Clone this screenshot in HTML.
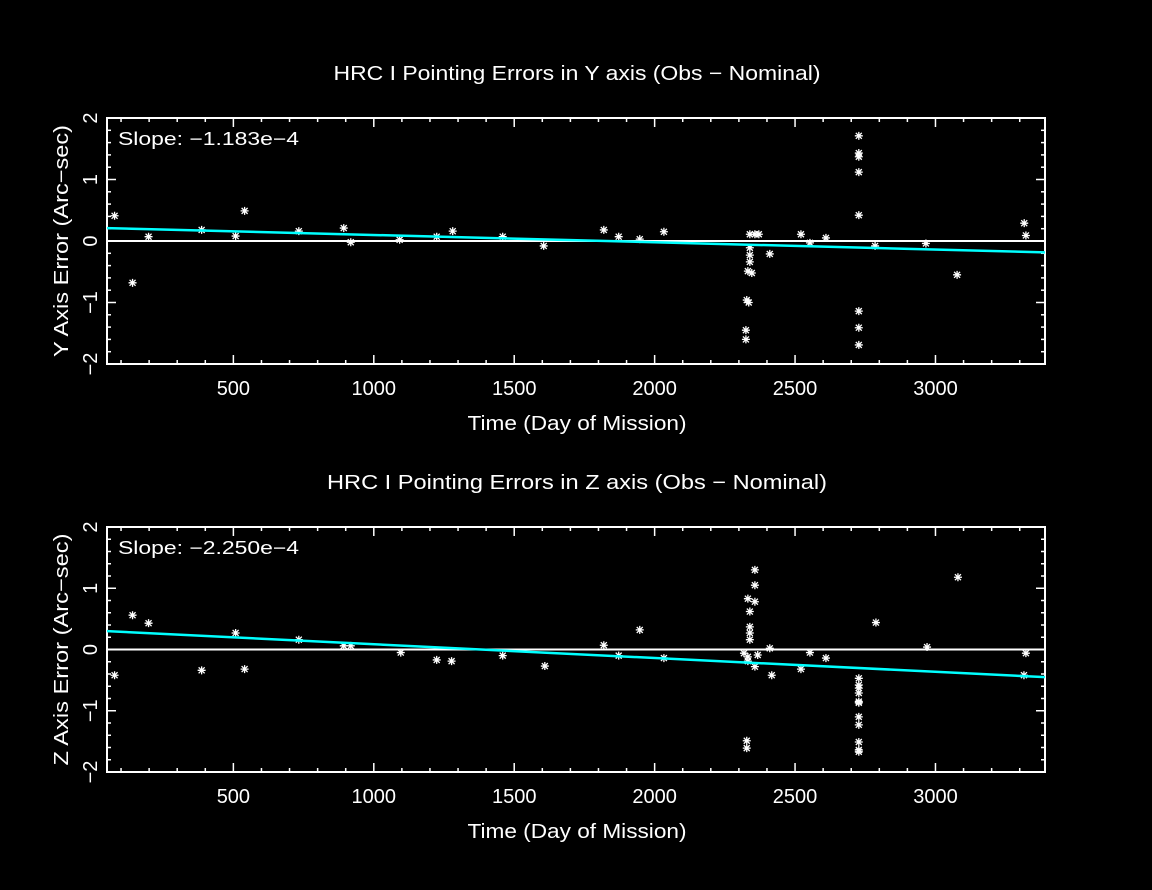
<!DOCTYPE html>
<html><head><meta charset="utf-8"><style>
html,body{margin:0;padding:0;background:#000;}
svg{display:block;font-family:"Liberation Sans","DejaVu Sans",sans-serif;}
</style></head><body>
<svg id="chart" width="1152" height="890" viewBox="0 0 1152 890" xmlns="http://www.w3.org/2000/svg">
<rect x="0" y="0" width="1152" height="890" fill="#000"/>
</svg>
<script>
const xTicks = [500, 1000, 1500, 2000, 2500, 3000];
const yTicks = [-2, -1, 0, 1, 2];
const yDays = [77,141,198,387,508,540,733,893,918,1092,1224,1281,1459,1605,1819,1872,1947,2033,2339,2357,2371,2339,2339,2339,2332,2346,2328,2335,2325,2325,2410,2521,2553,2610,2785,2727,2727,2727,2727,2727,2727,2727,2727,2966,3077,3316,3322];
const yVals = [0.41,-0.68,0.07,0.18,0.08,0.49,0.16,0.21,-0.02,0.02,0.07,0.16,0.07,-0.08,0.18,0.07,0.03,0.15,0.11,0.11,0.11,-0.11,-0.23,-0.34,-0.49,-0.52,-0.96,-1.0,-1.45,-1.6,-0.21,0.11,-0.03,0.05,-0.08,1.71,1.43,1.37,1.12,0.42,-1.14,-1.41,-1.69,-0.04,-0.55,0.29,0.09];
const zDays = [77,141,198,387,508,540,733,893,918,1096,1224,1277,1459,1609,1819,1872,1947,2033,2357,2357,2332,2357,2339,2339,2339,2339,2318,2332,2367,2332,2357,2328,2328,2417,2410,2553,2521,2610,2788,2727,2727,2727,2727,2727,2727,2727,2727,2727,2727,2727,2970,3080,3322,3315];
const zVals = [-0.42,0.56,0.43,-0.34,0.27,-0.32,0.16,0.06,0.06,-0.05,-0.17,-0.19,-0.1,-0.27,0.07,-0.1,0.32,-0.14,1.30,1.05,0.83,0.78,0.62,0.37,0.27,0.16,-0.06,-0.12,-0.09,-0.19,-0.28,-1.49,-1.61,-0.42,0.02,-0.05,-0.32,-0.14,0.44,-0.47,-0.58,-0.63,-0.71,-0.85,-0.87,-1.1,-1.23,-1.51,-1.64,-1.67,0.04,1.18,-0.06,-0.42];
const ySlope = -1.183e-4, yIntercept = 0.216;
const zSlope = -2.250e-4, zIntercept = 0.311;

const NS = "http://www.w3.org/2000/svg";
const svg = document.getElementById('chart');
const X0 = 107, X1 = 1045, DMIN = 50, DMAX = 3390;
function xs(d){ return X0 + (d - DMIN) * (X1 - X0) / (DMAX - DMIN); }
function mk(tag, attrs, parent){
  const e = document.createElementNS(NS, tag);
  for (const k in attrs) e.setAttribute(k, attrs[k]);
  (parent || svg).appendChild(e);
  return e;
}
function txt(s, x, y, size, anchor, parent, tl){
  const t = mk('text', {x:x, y:y, fill:'#fff', 'font-size':size, 'text-anchor':anchor||'middle'}, parent);
  if (tl) { t.setAttribute('textLength', tl); t.setAttribute('lengthAdjust', 'spacingAndGlyphs'); }
  t.textContent = s;
  return t;
}
function panel(name, top, bottom, title, titleLen, ylabel, slopeTxt, days, vals, slope, intercept){
  const g = mk('g', {});
  
  
  function ys(v){ return top + (2 - v) * (bottom - top) / 4; }
  const t = txt(title, 577, top - 38, 20, 'middle', g, titleLen);
  
  
  const fr = mk('rect', {x:X0, y:top, width:X1-X0, height:bottom-top, fill:'none', stroke:'#fff', 'stroke-width':2}, g);
  
  
  for (let d = 100; d <= 3300; d += 100){
    const x = xs(d);
    const len = (d % 500 === 0) ? 9 : 4;
    mk('line', {x1:x, y1:bottom, x2:x, y2:bottom-len, stroke:'#fff', 'stroke-width':1.5}, g);
    mk('line', {x1:x, y1:top, x2:x, y2:top+len, stroke:'#fff', 'stroke-width':1.5}, g);
  }
  xTicks.forEach(v => {
    const l = txt(String(v), xs(v), bottom + 31, 20, 'middle', g);
    
    
  });
  for (let i = -10; i <= 10; i++){
    const v = i / 5, y = ys(v);
    const len = (i % 5 === 0) ? 9 : 4;
    mk('line', {x1:X0, y1:y, x2:X0+len, y2:y, stroke:'#fff', 'stroke-width':1.5}, g);
    mk('line', {x1:X1, y1:y, x2:X1-len, y2:y, stroke:'#fff', 'stroke-width':1.5}, g);
  }
  yTicks.forEach(v => {
    const l = txt(String(v).replace('-', '\u2212'), 0, 0, 20, 'middle', g);
    l.setAttribute('transform', 'translate(97,' + ys(v) + ') rotate(-90)');
    
    
  });
  const xl = txt('Time (Day of Mission)', 577, bottom + 66, 20, 'middle', g, 219);
  
  
  const yl = txt(ylabel, 0, 0, 20, 'middle', g, 232);
  yl.setAttribute('transform', 'translate(68,' + ((top+bottom)/2) + ') rotate(-90)');
  
  
  const sl = txt(slopeTxt, 118, top + 27, 18, 'start', g, 181);
  
  
  const z = mk('line', {x1:X0, y1:ys(0), x2:X1, y2:ys(0), stroke:'#fff', 'stroke-width':2}, g);
  
  
  days.forEach((d, i) => {
    const cx = xs(d), cy = ys(vals[i]), r = 4;
    const p = mk('path', {d:'M'+(cx-r)+' '+cy+'H'+(cx+r)+'M'+cx+' '+(cy-r)+'V'+(cy+r)+'M'+(cx-3)+' '+(cy-3)+'L'+(cx+3)+' '+(cy+3)+'M'+(cx-3)+' '+(cy+3)+'L'+(cx+3)+' '+(cy-3), stroke:'#fff', 'stroke-width':1.3, fill:'none'}, g);
    
    
  });
  const f = mk('line', {x1:xs(DMIN), y1:ys(intercept + slope*DMIN), x2:xs(DMAX), y2:ys(intercept + slope*DMAX), stroke:'#00ffff', 'stroke-width':2.5}, g);
  
  
}
panel('y-axis', 118, 364, 'HRC I Pointing Errors in Y axis (Obs \u2212 Nominal)', 487, 'Y Axis Error (Arc\u2212sec)', 'Slope: \u22121.183e\u22124', yDays, yVals, ySlope, yIntercept);
panel('z-axis', 527, 772, 'HRC I Pointing Errors in  Z axis (Obs \u2212 Nominal)', 500, 'Z Axis Error (Arc\u2212sec)', 'Slope: \u22122.250e\u22124', zDays, zVals, zSlope, zIntercept);
</script>
</body></html>
